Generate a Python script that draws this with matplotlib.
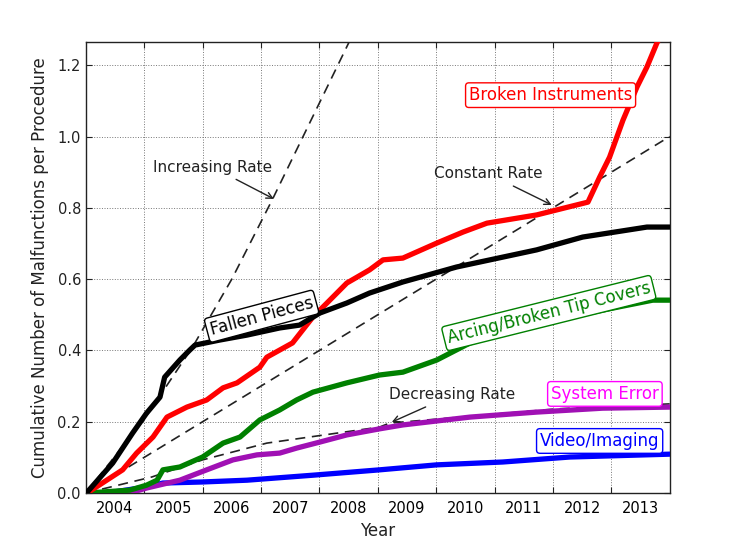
import matplotlib
matplotlib.use("Agg")
import matplotlib.pyplot as plt

# ---- data (x in decimal years) ----
fallen_x = [2004.01, 2004.46, 2004.80, 2005.04, 2005.27, 2005.35, 2005.61, 2005.78, 2005.87,
            2006.29, 2006.76, 2007.32, 2007.66, 2008.01, 2008.47, 2008.86, 2009.43, 2010.35,
            2011.72, 2012.51, 2013.61, 2014.0]
fallen_y = [0.0, 0.084, 0.168, 0.224, 0.269, 0.325, 0.373, 0.401, 0.415,
            0.429, 0.443, 0.463, 0.471, 0.505, 0.533, 0.561, 0.592, 0.634,
            0.682, 0.718, 0.746, 0.746]

broken_x = [2004.02, 2004.63, 2004.87, 2005.15, 2005.39, 2005.73, 2006.07, 2006.35, 2006.59,
            2006.98, 2007.10, 2007.54, 2007.89, 2008.13, 2008.47, 2008.86, 2009.09, 2009.43,
            2010.01, 2010.46, 2010.87, 2011.72, 2012.60, 2012.80, 2012.97, 2013.20, 2013.44,
            2013.61, 2013.78, 2014.0]
broken_y = [0.0, 0.065, 0.112, 0.157, 0.213, 0.241, 0.261, 0.295, 0.309,
            0.353, 0.381, 0.421, 0.494, 0.533, 0.589, 0.626, 0.654, 0.659,
            0.701, 0.732, 0.757, 0.780, 0.816, 0.886, 0.942, 1.046, 1.139,
            1.195, 1.262, 1.33]

arcing_x = [2004.02, 2004.75, 2005.04, 2005.22, 2005.32, 2005.61, 2006.00, 2006.35, 2006.64,
            2006.98, 2007.32, 2007.61, 2007.89, 2008.47, 2009.03, 2009.43, 2010.01, 2010.58,
            2011.14, 2011.72, 2012.29, 2012.85, 2013.71, 2014.0]
arcing_y = [0.0, 0.008, 0.022, 0.036, 0.065, 0.073, 0.101, 0.140, 0.157,
            0.205, 0.233, 0.261, 0.283, 0.309, 0.331, 0.339, 0.373, 0.421,
            0.449, 0.471, 0.494, 0.513, 0.541, 0.541]

system_x = [2004.75, 2005.04, 2005.61, 2006.07, 2006.52, 2006.93, 2007.32, 2007.61, 2008.01,
            2008.47, 2009.03, 2009.43, 2010.58, 2011.72, 2012.85, 2014.0]
system_y = [0.0, 0.014, 0.036, 0.065, 0.093, 0.107, 0.112, 0.126, 0.143,
            0.163, 0.180, 0.191, 0.213, 0.227, 0.238, 0.241]

video_x = [2004.36, 2005.04, 2005.32, 2006.00, 2006.76, 2007.89, 2009.03, 2010.01, 2011.14,
           2012.29, 2014.0]
video_y = [0.0, 0.017, 0.028, 0.031, 0.036, 0.050, 0.065, 0.079, 0.087,
           0.101, 0.109]

# reference trend lines
increasing_x = [2004.0, 2005.0, 2005.83, 2006.5, 2007.2, 2008.5, 2008.7]
increasing_y = [0.0, 0.207, 0.41, 0.60, 0.825, 1.262, 1.34]
constant_x = [2004.0, 2014.0]
constant_y = [0.0, 1.0]
decreasing_x = [2004.0, 2005.13, 2006.0, 2007.1, 2009.03, 2009.2, 2012.06, 2014.0]
decreasing_y = [0.0, 0.045, 0.093, 0.14, 0.185, 0.196, 0.236, 0.25]

year_labels = ["2004", "2005", "2006", "2007", "2008", "2009", "2010", "2011", "2012", "2013"]
y_ticks = [0.0, 0.2, 0.4, 0.6, 0.8, 1.0, 1.2]

fig = plt.figure(figsize=(7.4, 5.39), dpi=100)
ax = fig.add_axes([0.116, 0.0853, 0.789, 0.8367])

# trend lines
for xs, ys in [(increasing_x, increasing_y), (constant_x, constant_y), (decreasing_x, decreasing_y)]:
    ax.plot(xs, ys, ls="--", color="#222222", lw=1.2, dashes=(6, 4), zorder=2)

series = [
    (video_x, video_y, "#0000ff"),
    (system_x, system_y, "#a010b4"),
    (arcing_x, arcing_y, "#008000"),
    (broken_x, broken_y, "#ff0000"),
    (fallen_x, fallen_y, "#000000"),
]
for xs, ys, c in series:
    ax.plot(xs, ys, color=c, lw=3.8, solid_capstyle="round", solid_joinstyle="round", zorder=3)

ax.set_xlim(2004.0, 2014.0)
ax.set_ylim(0.0, 1.265)

# year boundaries as major ticks (grid), labels centred at mid-year
ax.set_xticks([2005 + i for i in range(9)])
ax.set_xticklabels([])
ax.set_xticks([2004.5 + i for i in range(len(year_labels))], minor=True)
ax.set_xticklabels(year_labels, minor=True)
ax.tick_params(axis="x", which="minor", length=0, labelsize=10.5, pad=6)
ax.set_yticks(y_ticks)
ax.set_yticklabels(["%.1f" % v for v in y_ticks])
ax.tick_params(axis="both", which="major", direction="in", top=True, right=True,
               length=4, width=0.8, labelsize=10.5, colors="#222222")
ax.grid(True, which="major", ls=":", color="#777777", lw=0.7)

for s in ax.spines.values():
    s.set_linewidth(1.0)
    s.set_color("#222222")

ax.set_xlabel("Year", fontsize=12, labelpad=4, color="#222222")
ax.set_ylabel("Cumulative Number of Malfunctions per Procedure", fontsize=12, labelpad=6,
              color="#222222")

# category labels
def boxed(x, y, text, color, rot=0):
    ax.text(x, y, text, color=color, fontsize=12, ha="center", va="center", rotation=rot,
            rotation_mode="anchor", zorder=5,
            bbox=dict(boxstyle="round,pad=0.2", fc="white", ec=color, lw=1.0))

boxed(2011.96, 1.116, "Broken Instruments", "#ff0000")
boxed(2007.01, 0.496, "Fallen Pieces", "#000000", rot=15)
boxed(2011.93, 0.505, "Arcing/Broken Tip Covers", "#008000", rot=14)
boxed(2012.89, 0.278, "System Error", "#ff00ff")
boxed(2012.80, 0.146, "Video/Imaging", "#0000ff")

arrow = dict(arrowstyle="->", color="#222222", lw=1.0, shrinkA=3, shrinkB=0)
ax.annotate("Increasing Rate", xy=(2007.22, 0.825), xytext=(2006.17, 0.914),
            fontsize=11, color="#222222", ha="center", va="center", arrowprops=arrow, zorder=6)
ax.annotate("Constant Rate", xy=(2011.98, 0.808), xytext=(2010.90, 0.895),
            fontsize=11, color="#222222", ha="center", va="center", arrowprops=arrow, zorder=6)
ax.annotate("Decreasing Rate", xy=(2009.24, 0.199), xytext=(2010.28, 0.275),
            fontsize=11, color="#222222", ha="center", va="center", arrowprops=arrow, zorder=6)

fig.savefig("out.png", dpi=100)
